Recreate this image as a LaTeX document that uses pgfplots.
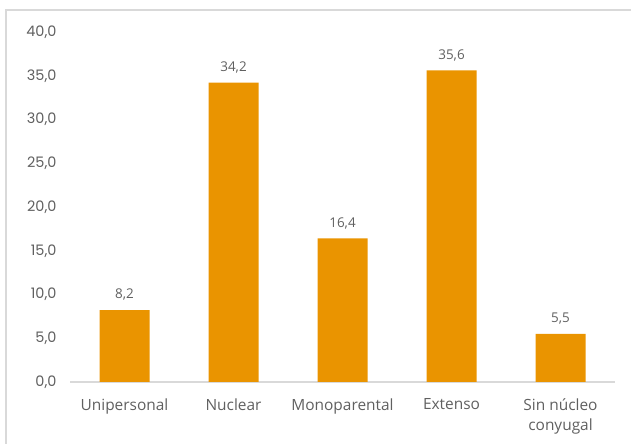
\documentclass[border=0pt]{standalone}
\usepackage{pgfplots}
\pgfplotsset{compat=1.18}
\usepackage{fontspec}
\setmainfont{Open Sans}
\newfontfamily\tickfont{Poppins}
\definecolor{barorange}{RGB}{234,148,0}
\definecolor{txtgray}{RGB}{96,96,96}
\definecolor{linegray}{RGB}{217,217,217}
\begin{document}
\begin{tikzpicture}[x=1bp,y=1bp]
\useasboundingbox (0,0) rectangle (631,444);
% outer frame of the chart area
\draw[linegray, line width=2bp] (6,-5) -- (6,434) -- (640,434);
\begin{axis}[
  at={(70bp,62bp)}, anchor=south west,
  scale only axis, width=545bp, height=350bp,
  xmin=-0.5, xmax=4.5, ymin=0, ymax=40,
  ytick={0,5,...,40},
  xtick=data,
  xticklabels={Unipersonal, Nuclear, Monoparental, Extenso, {Sin núcleo\\conyugal}},
  xticklabel style={align=center, font=\fontsize{15.5}{20.5}\selectfont, text=txtgray, yshift=-13bp},
  yticklabel style={font=\tickfont\fontsize{14.5}{14.5}\selectfont, text=txtgray, xshift=-10bp},
  axis x line*=bottom, axis y line*=left,
  x axis line style={draw=linegray, line width=1.2bp, -},
  y axis line style={draw=none},
  major tick length=0pt,
  ybar, bar width=50bp,
  nodes near coords,
  nodes near coords style={font=\fontsize{13.5}{13.5}\selectfont, text=txtgray, yshift=6bp},
  /pgf/number format/.cd, fixed, fixed zerofill, precision=1, use comma, assume math mode=true
]
\addplot[fill=barorange, draw=none] coordinates {(0,8.2) (1,34.2) (2,16.4) (3,35.6) (4,5.5)};
\end{axis}
\end{tikzpicture}
\end{document}
